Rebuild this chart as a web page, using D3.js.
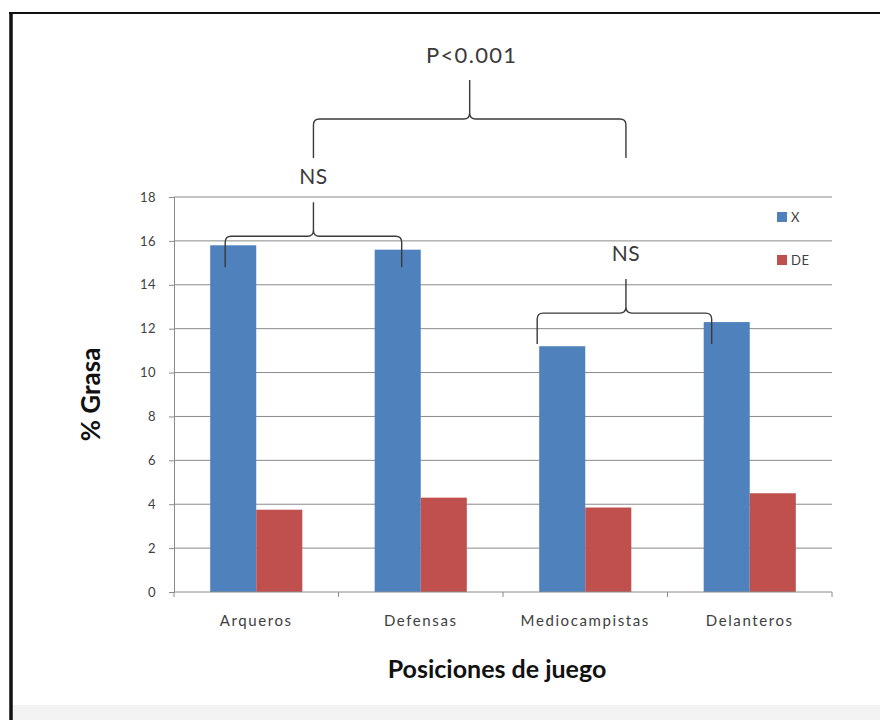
<!DOCTYPE html>
<html>
<head>
<meta charset="utf-8">
<script src="https://cdn.jsdelivr.net/npm/d3@7"></script>
<style>
  html, body { margin: 0; padding: 0; background: #fff; }
  svg { display: block; }
  text { font-family: Lato, "Open Sans", "DejaVu Sans", sans-serif; }
</style>
</head>
<body>
<svg id="chart" width="880" height="720"></svg>
<script>
// % body fat by playing position: mean (X) and standard deviation (DE)
const categories = ["Arqueros", "Defensas", "Mediocampistas", "Delanteros"];
const seriesNames = ["X", "DE"];
const meanValues = [15.8, 15.6, 11.2, 12.3];
const sdValues = [3.75, 4.3, 3.85, 4.5];
const yTicks = [0, 2, 4, 6, 8, 10, 12, 14, 16, 18];
const colors = ["#4F81BD", "#C0504D"];

// Significance brackets between groups of positions
const comparisons = [
  { from: "Arqueros", to: "Defensas", label: "NS" },
  { from: "Mediocampistas", to: "Delanteros", label: "NS" }
];
const overallLabel = "P<0.001";

const svg = d3.select("#chart");
const W = 880, H = 720;
const plot = { left: 174, right: 832, top: 197, bottom: 592 };

// page backdrop and frame
svg.append("rect").attr("x", 0).attr("y", 0).attr("width", W).attr("height", H).attr("fill", "#fff");
svg.append("rect").attr("x", 12).attr("y", 705).attr("width", W - 12).attr("height", H - 705).attr("fill", "#f3f3f3");
svg.append("line").attr("x1", 9).attr("x2", W).attr("y1", 13).attr("y2", 13)
  .attr("stroke", "#111").attr("stroke-width", 2);
svg.append("line").attr("x1", 11).attr("x2", 11).attr("y1", 12).attr("y2", H)
  .attr("stroke", "#111").attr("stroke-width", 3.5);

const x = d3.scaleBand().domain(categories)
  .range([plot.left, plot.right]).paddingInner(0.44).paddingOuter(0.22);
const xs = d3.scaleBand().domain(seriesNames).range([0, x.bandwidth()]);
const y = d3.scaleLinear().domain([0, 18]).range([plot.bottom, plot.top]);

const axisColor = "#8a8a8a";
const textColor = "#404040";

// horizontal gridlines
svg.append("g").selectAll("line").data(yTicks.filter(d => d > 0)).join("line")
  .attr("x1", plot.left).attr("x2", plot.right)
  .attr("y1", d => y(d)).attr("y2", d => y(d))
  .attr("stroke", axisColor).attr("stroke-width", 1);

// y axis
const yAxis = svg.append("g").attr("transform", `translate(${plot.left},0)`)
  .call(d3.axisLeft(y).tickValues(yTicks).tickSize(5).tickPadding(13));
yAxis.select(".domain").attr("stroke", axisColor);
yAxis.selectAll(".tick line").attr("stroke", axisColor);
yAxis.selectAll(".tick text").attr("fill", textColor).style("font-size", "13px")
  .style("letter-spacing", "0.5px")
  .style("font-family", "Lato, 'Open Sans', sans-serif");

// bars
const rows = categories.map((c, i) => ({ cat: c, vals: [meanValues[i], sdValues[i]] }));
const groups = svg.append("g").selectAll("g").data(rows).join("g")
  .attr("transform", d => `translate(${x(d.cat)},0)`);
groups.selectAll("rect").data(d => d.vals.map((v, j) => ({ key: seriesNames[j], v, j }))).join("rect")
  .attr("x", d => xs(d.key)).attr("width", xs.bandwidth())
  .attr("y", d => y(d.v)).attr("height", d => y(0) - y(d.v))
  .attr("fill", d => colors[d.j]);

// x axis line with boundary ticks
svg.append("line").attr("x1", plot.left).attr("x2", plot.right)
  .attr("y1", y(0)).attr("y2", y(0)).attr("stroke", axisColor);
const step = x.step();
const bounds = d3.range(categories.length + 1).map(i => plot.left + i * step);
svg.append("g").selectAll("line").data(bounds).join("line")
  .attr("x1", d => d).attr("x2", d => d)
  .attr("y1", y(0)).attr("y2", y(0) + 5).attr("stroke", axisColor);
svg.append("g").selectAll("text").data(categories).join("text")
  .attr("x", d => x(d) + x.bandwidth() / 2).attr("y", y(0) + 34)
  .attr("text-anchor", "middle").attr("fill", textColor)
  .style("font-size", "15px").style("letter-spacing", "1.6px").text(d => d);

// axis titles
svg.append("text").attr("x", (plot.left + plot.right) / 2 - 6).attr("y", 678)
  .attr("text-anchor", "middle").attr("fill", "#111")
  .style("font-size", "25px").style("font-weight", "bold").text("Posiciones de juego");
svg.append("text")
  .attr("transform", `translate(100,${(plot.top + plot.bottom) / 2}) rotate(-90)`)
  .attr("text-anchor", "middle").attr("fill", "#111")
  .style("font-size", "26px").style("font-weight", "bold").text("% Grasa");

// legend
const legend = svg.append("g").selectAll("g").data(seriesNames).join("g")
  .attr("transform", (d, i) => `translate(777,${212 + i * 43})`);
legend.append("rect").attr("width", 10).attr("height", 10).attr("fill", (d, i) => colors[i]);
legend.append("text").attr("x", 14).attr("y", 10).attr("fill", textColor)
  .style("font-size", "13px").style("letter-spacing", "0.5px").text(d => d);

// curly bracket path: horizontal rail at yH, legs down to yEnd, peak up to yP
function brace(xl, xr, xp, yH, yEnd, yP) {
  const r = 6;
  return `M${xl},${yEnd} L${xl},${yH + r} Q${xl},${yH} ${xl + r},${yH} L${xp - r},${yH} ` +
    `Q${xp},${yH} ${xp},${yH - r} L${xp},${yP} M${xp},${yH - r} Q${xp},${yH} ${xp + r},${yH} ` +
    `L${xr - r},${yH} Q${xr},${yH} ${xr},${yH + r} L${xr},${yEnd}`;
}
const braceColor = "#3a3a3a";
const ann = svg.append("g").attr("fill", "none").attr("stroke", braceColor).attr("stroke-width", 1.4);

// pair brackets sit over the taller bar of each pair
const legOffsets = [[15, 27], [-2, 8]];
const peaks = comparisons.map((c, k) => {
  const i0 = categories.indexOf(c.from), i1 = categories.indexOf(c.to);
  const top = Math.max(meanValues[i0], meanValues[i1]);
  const xl = x(c.from) + legOffsets[k][0];
  const xr = x(c.to) + legOffsets[k][1];
  const xp = (xl + xr) / 2 + (k === 1 ? 1.5 : 0);
  const yH = y(top) - 9;
  const yEnd = yH + 31;
  const yP = yH - 34;
  ann.append("path").attr("d", brace(xl, xr, xp, yH, yEnd, yP));
  svg.append("text").attr("x", xp).attr("y", yP - 18).attr("text-anchor", "middle")
    .attr("fill", braceColor).style("font-size", "21px").style("letter-spacing", "0.5px").text(c.label);
  return { xp, yP };
});

// overall bracket joins the two pair peaks
{
  const xl = peaks[0].xp, xr = peaks[1].xp;
  const xp = (xl + xr) / 2;
  const yEnd = 158, yH = 119, yP = 80;
  ann.append("path").attr("d", brace(xl, xr, xp, yH, yEnd, yP));
  svg.append("text").attr("x", xp + 2).attr("y", 63).attr("text-anchor", "middle")
    .attr("fill", braceColor).style("font-size", "22px").style("letter-spacing", "1.3px").text(overallLabel);
}
</script>
</body>
</html>
